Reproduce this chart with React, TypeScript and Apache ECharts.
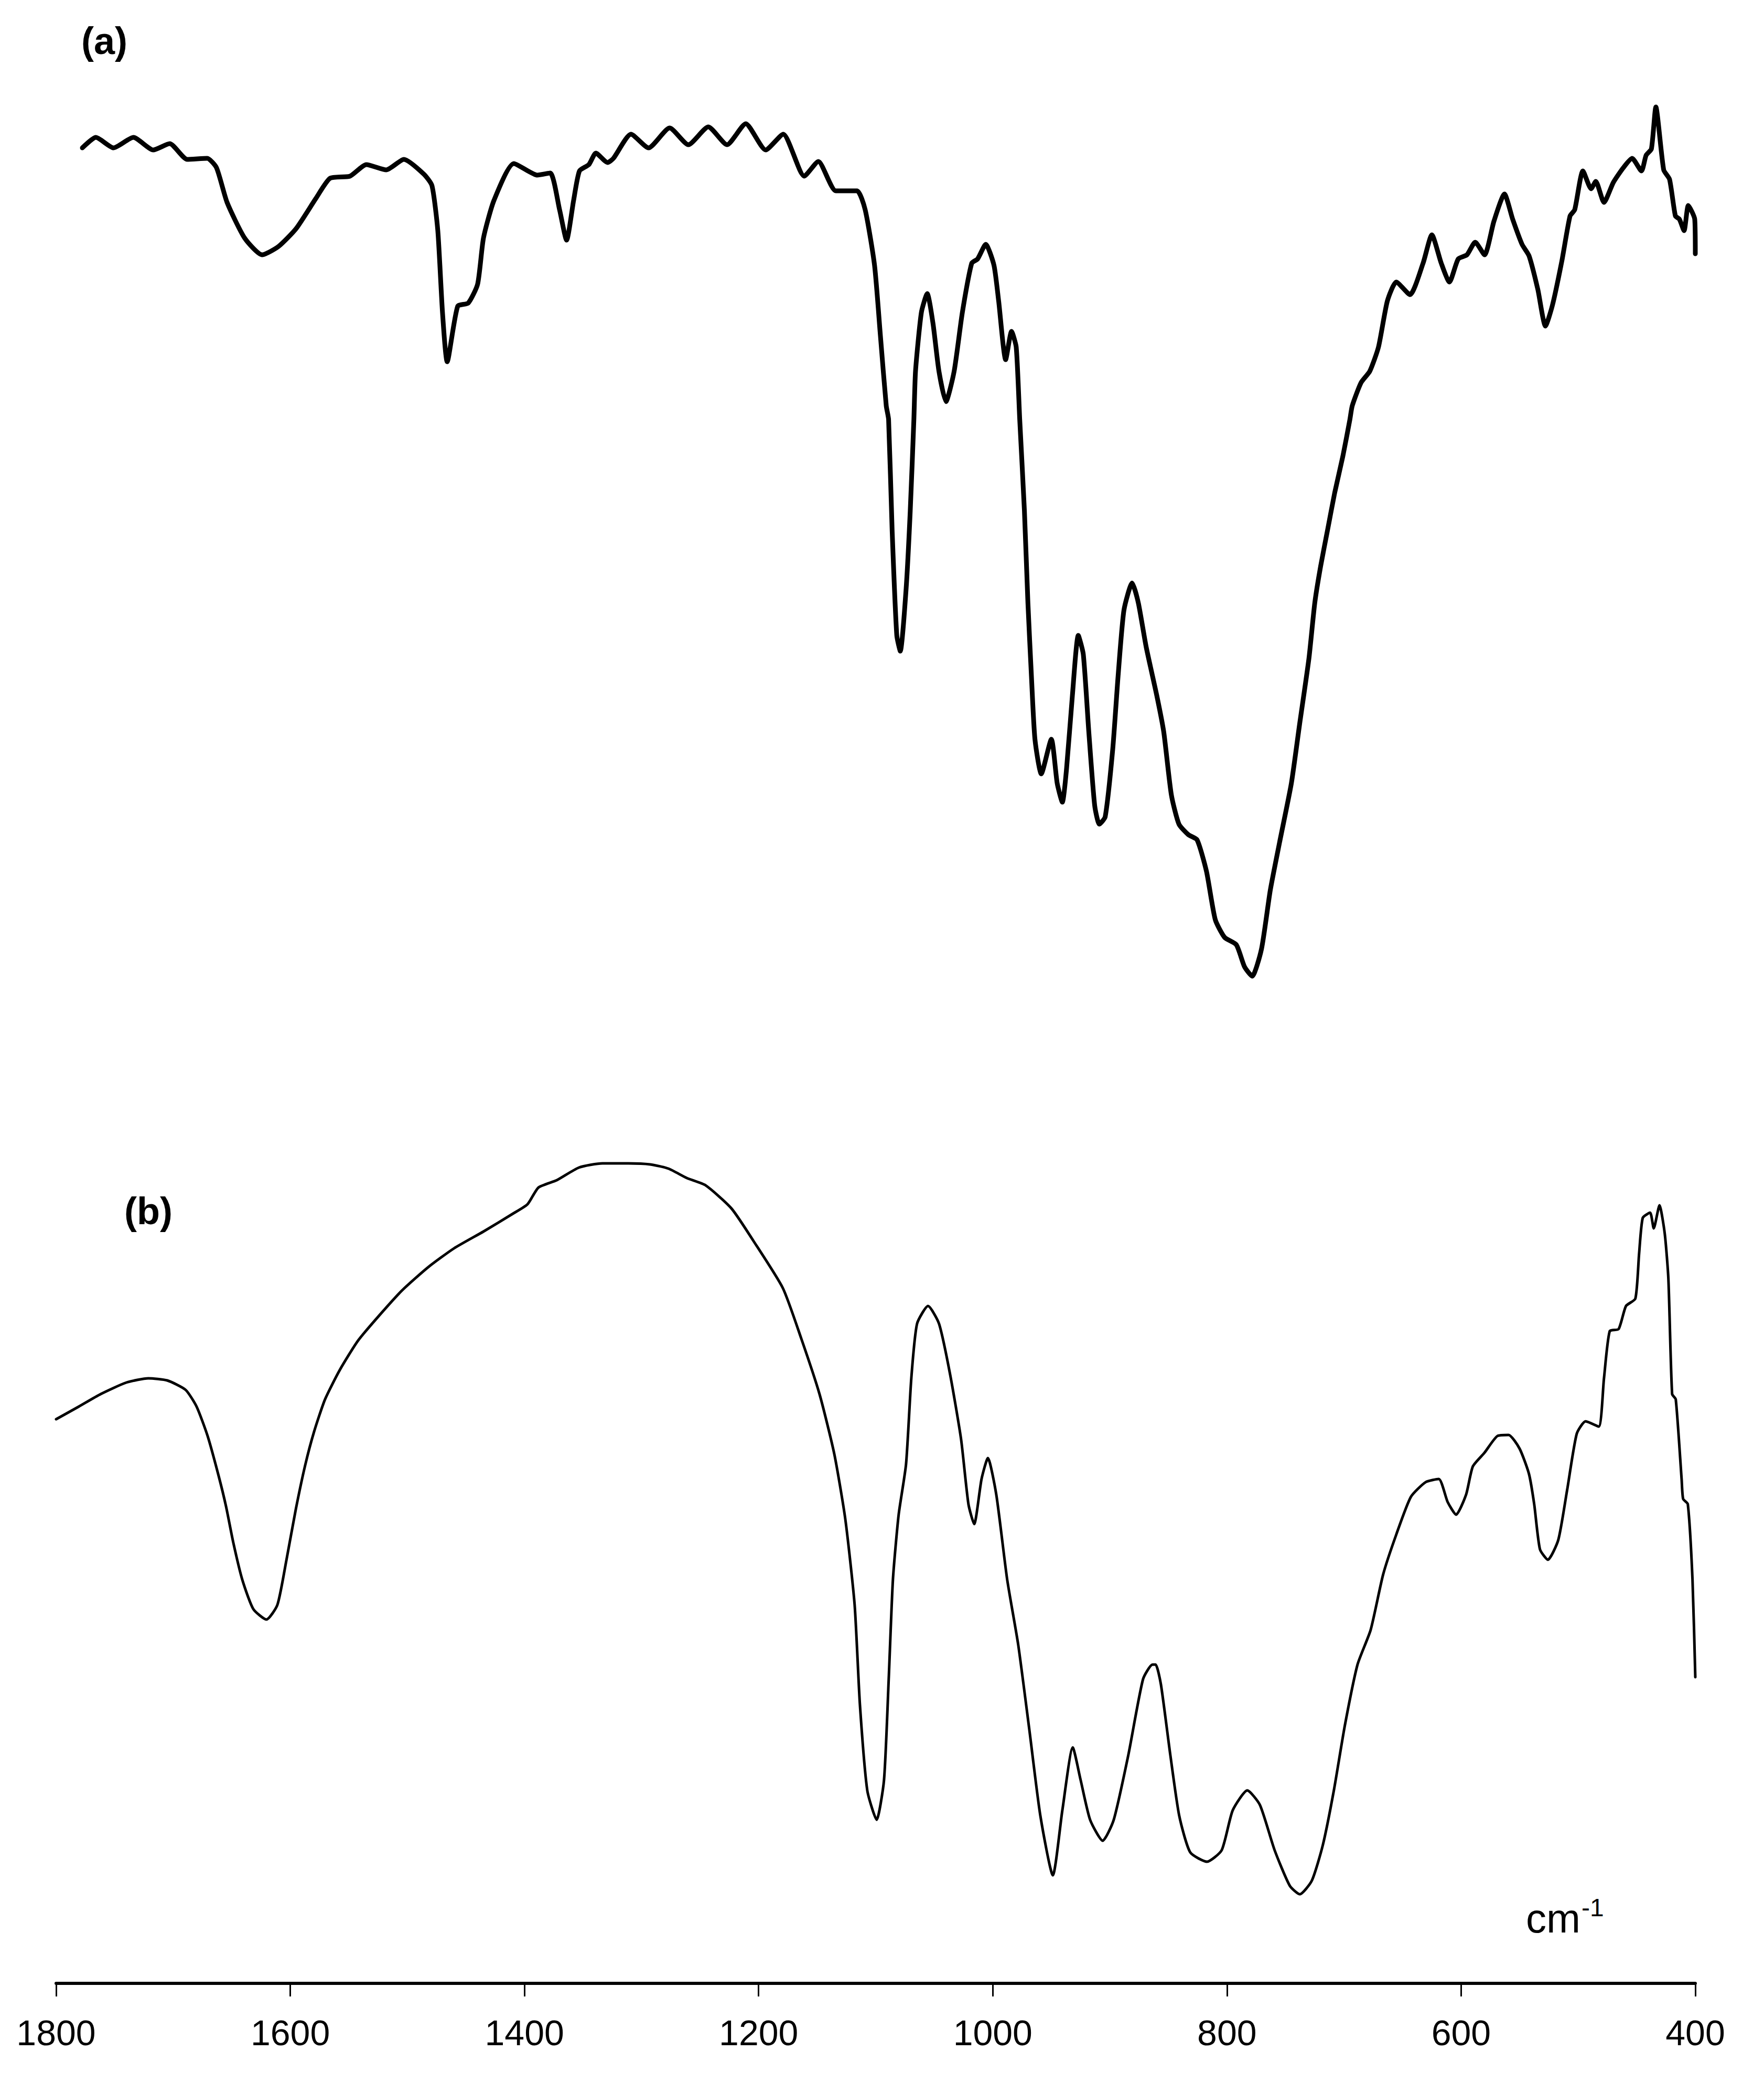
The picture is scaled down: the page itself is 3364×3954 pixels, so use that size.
import React, { useEffect, useRef } from "react";
import * as echarts from "echarts";

// Panel (a): wavenumber (cm-1) and transmittance (a.u.)
const waveA = [
  1777.6, 1766, 1751, 1734, 1717, 1703, 1688, 1671, 1663, 1654, 1639, 1624, 1610, 1595, 1578, 1566, 1549, 1535, 1518, 1503,
  1486, 1479, 1474, 1470, 1466, 1457, 1448, 1440, 1435, 1426, 1409, 1389, 1378, 1370, 1364, 1358, 1353, 1345, 1339, 1329,
  1324, 1309, 1294, 1276, 1260, 1243, 1227, 1211, 1194, 1179, 1161, 1149, 1134, 1116, 1109, 1101, 1096, 1091, 1089, 1086,
  1082, 1079, 1074, 1070.5, 1067.4, 1066, 1061, 1056, 1051, 1046, 1040, 1033, 1026, 1018, 1013, 1006, 999, 995, 989, 984,
  980, 977, 973, 970, 967, 964, 958.6, 950, 945, 940.6, 937, 932, 927, 922.7, 918, 913, 909, 904, 897.6, 893,
  888, 881, 875.7, 869, 860, 854, 847.5, 841, 833, 825.5, 817.5, 810, 802, 792, 785, 778.5, 770.5, 763, 755, 745,
  738, 730, 725, 720, 714, 708, 701, 695, 693, 685.5, 678, 670.6, 663, 655.4, 643.7, 632.5, 625, 617, 610, 602.5,
  595, 588, 580, 572, 563, 556, 548, 542, 534.5, 528, 522, 514, 507, 503, 496, 489, 485, 478, 470, 461.5,
  454, 446, 442, 437.5, 433.7, 427, 422, 417, 413.6, 409.6, 406, 400.5, 400,
];
const transA = [
  85.9, 86.9, 85.9, 86.9, 85.7, 86.3, 84.8, 84.9, 84.0, 80.7, 77.3, 75.7, 76.5, 78.2, 81.1, 83.0, 83.2, 84.3, 83.8, 84.8,
  83.4, 82.3, 78.0, 70.2, 65.5, 70.8, 71.1, 72.9, 77.3, 80.9, 84.4, 83.3, 83.5, 80.0, 77.1, 80.9, 83.7, 84.3, 85.4, 84.5,
  84.9, 87.2, 85.9, 87.8, 86.2, 87.9, 86.2, 88.2, 85.7, 87.2, 83.2, 84.6, 81.8, 81.8, 80.0, 74.7, 68.0, 61.3, 60.0, 49.5,
  39.4, 37.9, 43.9, 51.3, 60.0, 64.6, 70.2, 72.0, 69.1, 64.6, 61.7, 64.6, 70.2, 74.9, 75.3, 76.7, 74.7, 71.3, 65.7, 68.4,
  66.9, 60.0, 51.3, 42.5, 35.5, 29.5, 26.2, 29.5, 25.3, 23.5, 26.7, 33.7, 39.4, 37.6, 30.2, 23.2, 21.4, 22.1, 28.5, 35.5,
  41.8, 44.4, 42.5, 38.3, 33.7, 30.2, 24.2, 21.4, 20.4, 19.9, 16.9, 12.3, 10.6, 9.9, 7.8, 6.9, 9.5, 15.1, 19.7, 25.3,
  30.9, 37.2, 42.5, 46.0, 49.5, 53.0, 56.5, 60.0, 61.3, 63.5, 64.6, 66.9, 71.3, 73.1, 71.9, 74.9, 77.6, 74.9, 73.1, 75.3,
  75.7, 76.9, 75.7, 78.9, 81.5, 79.1, 76.7, 75.6, 72.4, 68.9, 70.9, 75.1, 79.4, 80.0, 83.7, 82.0, 82.7, 80.7, 82.6, 84.0,
  84.9, 83.7, 85.2, 85.8, 89.8, 83.8, 82.9, 79.4, 79.1, 78.0, 80.4, 79.1, 75.8,
];

// Panel (b): wavenumber (cm-1) and transmittance (a.u.)
const waveB = [
  1800, 1780.7, 1761.9, 1740, 1721.2, 1705.1, 1689.4, 1680, 1670.6, 1661.2, 1654.9, 1648.6, 1641, 1631.6, 1620.4, 1611, 1603.4, 1595.3, 1587.3, 1579.7,
  1570.3, 1557.7, 1542.1, 1523.2, 1504.4, 1482.2, 1460.1, 1435, 1409.9, 1397.4, 1388, 1372.3, 1353.5, 1333.4, 1311.4, 1292.6, 1277, 1261.3, 1245.2, 1223.2,
  1204.4, 1179.3, 1163.6, 1148, 1135.4, 1126, 1118, 1113.5, 1107.2, 1099.2, 1092.9, 1088.9, 1085.3, 1080.4, 1074.1, 1069.6, 1064.7, 1055.3, 1045.9, 1036.5,
  1027.1, 1020.8, 1015.9, 1009.6, 1004.2, 997, 987.7, 978.3, 968.8, 959.4, 948.7, 940.6, 931.7, 925, 916.9, 906.1, 896.7, 884.2, 871.7, 863.6,
  860.9, 856.4, 848.4, 840.8, 831.4, 817.1, 804.5, 795.1, 782.6, 771.8, 759.3, 746.3, 737.8, 727.5, 718.1, 708.7, 699.3, 688.5, 677.3, 666.6,
  655.4, 642.9, 630.3, 619.1, 611.5, 604.3, 595.8, 590, 580.1, 569, 559.5, 550.1, 542.1, 537.6, 532.7, 525.9, 517, 509.4, 501.3, 493.7,
  482.5, 478, 473.1, 465.5, 459.2, 451.2, 448, 444.9, 438.6, 435.5, 430.6, 426.1, 423, 419.8, 416.7, 411.7, 410.4, 406.4, 402.4, 400,
];
const transB = [
  53.8, 55.0, 56.2, 57.3, 57.7, 57.5, 56.6, 55.0, 52.2, 48.4, 45.5, 42.0, 38.5, 35.7, 34.7, 36.1, 40.3, 45.2, 49.4, 52.6,
  55.7, 58.5, 61.3, 63.8, 66.1, 68.3, 70.1, 71.7, 73.4, 74.3, 75.9, 76.6, 77.8, 78.2, 78.2, 78.1, 77.7, 76.8, 76.1, 73.9,
  70.8, 66.3, 61.5, 56.2, 50.5, 44.3, 36.1, 26.6, 18.4, 15.6, 19.4, 29.0, 38.5, 44.7, 49.5, 57.7, 62.9, 64.6, 62.9, 58.1,
  51.9, 45.7, 43.8, 48.1, 50.1, 46.6, 38.5, 32.3, 24.2, 16.0, 10.3, 16.5, 22.5, 19.4, 15.6, 13.6, 15.6, 21.8, 29.0, 30.4,
  30.4, 28.5, 21.8, 16.0, 12.5, 11.6, 12.7, 16.5, 18.4, 17.0, 12.7, 9.3, 8.5, 9.8, 13.2, 18.4, 24.6, 30.4, 33.7, 39.0,
  42.8, 46.4, 47.8, 48.1, 45.9, 44.7, 46.6, 49.3, 50.6, 52.2, 52.3, 51.0, 48.6, 45.7, 41.4, 40.4, 42.3, 47.1, 52.4, 53.6,
  53.1, 57.7, 62.2, 62.4, 64.6, 65.3, 69.6, 73.0, 73.5, 72.0, 74.2, 71.5, 67.2, 56.2, 55.7, 48.1, 46.2, 45.7, 38.5, 29.2,
];

const xTicks = [1800, 1600, 1400, 1200, 1000, 800, 600, 400];
const panelLabels = ["(a)", "(b)"];
const unitText = "cm";
const unitSup = "-1";

export default function App() {
  const ref = useRef<HTMLDivElement>(null);
  useEffect(() => {
    if (!ref.current) return;
    const chart = echarts.init(ref.current, null, { renderer: "svg" });
    const dataA = waveA.map((w, i) => [w, transA[i]]);
    const dataB = waveB.map((w, i) => [w, transB[i]]);
    const font = "'Liberation Sans', Arial, sans-serif";
    chart.setOption({
      animation: false,
      backgroundColor: "#ffffff",
      grid: [
        { left: 107, width: 3126, top: 0, height: 2000 },
        { left: 107, width: 3126, top: 1783, height: 2000 },
      ],
      xAxis: [
        {
          type: "value", gridIndex: 0, min: 400, max: 1800, interval: 200, inverse: true, show: false,
        },
        {
          type: "value", gridIndex: 1, min: 400, max: 1800, interval: 200, inverse: true,
          axisLine: { show: true, onZero: false, lineStyle: { color: "#000", width: 6 } },
          axisTick: { show: true, length: 25, lineStyle: { color: "#000", width: 3 } },
          axisLabel: {
            show: true, margin: 60, color: "#000", fontSize: 68, fontFamily: font,
            formatter: (v: number) => (xTicks.includes(v) ? String(v) : ""),
          },
          splitLine: { show: false },
        },
      ],
      yAxis: [
        { type: "value", gridIndex: 0, min: 0, max: 100, show: false },
        { type: "value", gridIndex: 1, min: 0, max: 100, show: false },
      ],
      series: [
        {
          type: "line", xAxisIndex: 0, yAxisIndex: 0, data: dataA, showSymbol: false, smooth: 0.2,
          lineStyle: { color: "#000", width: 9, join: "round", cap: "round" },
        },
        {
          type: "line", xAxisIndex: 1, yAxisIndex: 1, data: dataB, showSymbol: false, smooth: 0.2,
          lineStyle: { color: "#000", width: 5, join: "round", cap: "round" },
        },
      ],
      graphic: [
        {
          type: "text", left: 155, top: 42,
          style: { text: panelLabels[0], font: `bold 72px ${font}`, fill: "#000" },
        },
        {
          type: "text", left: 237, top: 2274,
          style: { text: panelLabels[1], font: `bold 72px ${font}`, fill: "#000" },
        },
        {
          type: "text", left: 2910, top: 3620,
          style: { text: unitText, font: `78px ${font}`, fill: "#000" },
        },
        {
          type: "text", left: 3016, top: 3614,
          style: { text: unitSup, font: `48px ${font}`, fill: "#000" },
        },
      ],
    });
    return () => chart.dispose();
  }, []);
  return (
    <div
      ref={ref}
      style={{ position: "fixed", left: 0, top: 0, width: 3364, height: 3954, background: "#fff" }}
    />
  );
}
